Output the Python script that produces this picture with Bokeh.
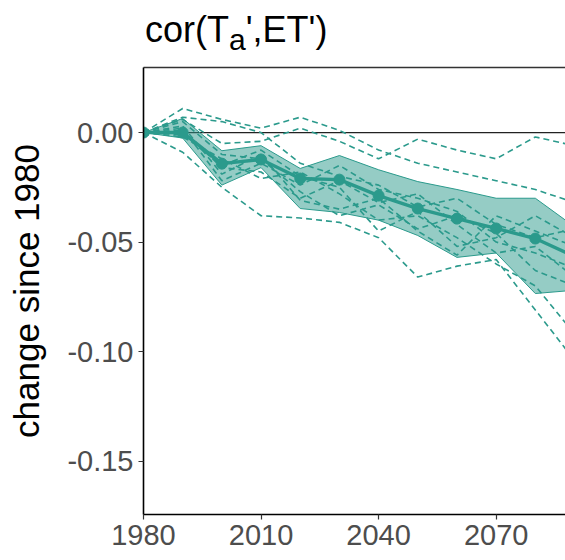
from bokeh.plotting import figure
from bokeh.layouts import column
from bokeh.models import Range1d, FixedTicker, LinearAxis, Span, Div, NumeralTickFormatter
from bokeh.embed import file_html
from bokeh.resources import INLINE

# ---------------- data ----------------
years = [1980, 1990, 2000, 2010, 2020, 2030, 2040, 2050, 2060, 2070, 2080, 2090]

mean_change = [0.0, 0.0, -0.0142, -0.0123, -0.0210, -0.0215, -0.0288, -0.0347,
               -0.0393, -0.0438, -0.0484, -0.0566]
band_upper = [0.0, 0.0064, -0.0083, -0.0060, -0.0164, -0.0105, -0.0170, -0.0224,
              -0.0260, -0.0300, -0.0300, -0.0430]
band_lower = [0.0, -0.0025, -0.0240, -0.0160, -0.0347, -0.0365, -0.0400, -0.0470,
              -0.0570, -0.0550, -0.0735, -0.0720]

member_1 = [0.0, 0.006, -0.005, -0.004, 0.002, -0.004, -0.012, -0.003, -0.008, -0.012, -0.002, -0.006]
member_2 = [0.0, 0.011, 0.006, 0.002, 0.007, 0.001, -0.008, -0.014, -0.018, -0.022, -0.026, -0.032]
member_3 = [0.0, -0.009, -0.025, -0.038, -0.039, -0.041, -0.048, -0.066, -0.061, -0.058, -0.081, -0.104]
member_4 = [0.0, 0.003, -0.019, -0.010, -0.031, -0.035, -0.030, -0.045, -0.056, -0.038, -0.045, -0.052]
member_5 = [0.0, -0.002, -0.012, -0.021, -0.018, -0.028, -0.040, -0.038, -0.048, -0.060, -0.070, -0.092]
member_6 = [0.0, 0.002, -0.022, -0.014, -0.024, -0.015, -0.026, -0.030, -0.036, -0.050, -0.055, -0.062]
member_7 = [0.0, 0.005, -0.010, -0.012, -0.027, -0.038, -0.033, -0.044, -0.038, -0.046, -0.063, -0.070]
member_8 = [0.0, -0.001, -0.015, -0.008, -0.020, -0.025, -0.045, -0.036, -0.052, -0.048, -0.038, -0.048]
member_9 = [0.0, 0.007, 0.005, 0.000, -0.014, -0.020, -0.024, -0.034, -0.030, -0.042, -0.048, -0.044]
member_10 = [0.0, 0.001, -0.016, -0.018, -0.030, -0.022, -0.032, -0.028, -0.042, -0.055, -0.052, -0.066]
members = [member_1, member_2, member_3, member_4, member_5,
           member_6, member_7, member_8, member_9, member_10]

x_ticks = [1980, 2010, 2040, 2070, 2100]
y_ticks = [0.0, -0.05, -0.10, -0.15]
title_html = "cor(T<sub>a</sub>',ET')"
y_label = "change since 1980"

# ---------------- styling ----------------
TEAL = "#2b9a8c"
FONT = "Liberation Sans"

title = Div(text=title_html, width=565, height=55, margin=0,
            styles={"font-family": FONT, "font-size": "36px", "color": "black",
                    "padding-left": "145px", "line-height": "60px",
                    "white-space": "nowrap"})

p = figure(width=565, height=505, output_backend="svg", toolbar_location=None,
           x_range=Range1d(1980, 2087.7), y_range=Range1d(-0.1744, 0.0297),
           min_border_left=143, min_border_right=0, min_border_top=12,
           min_border_bottom=46, margin=0)
p.background_fill_color = "white"
p.border_fill_color = "white"
p.outline_line_color = None
p.grid.visible = False

# zero reference line
p.add_layout(Span(location=0, dimension="width", line_color="#222222",
                  line_width=1.3, level="underlay"))

# ribbon
p.varea(x=years, y1=band_lower, y2=band_upper, fill_color=TEAL, fill_alpha=0.5)
p.line(years, band_upper, line_color=TEAL, line_width=1.0)
p.line(years, band_lower, line_color=TEAL, line_width=1.0)

# ensemble members
for m in members:
    p.line(years, m, line_color=TEAL, line_width=1.6, line_dash="6 4")

# mean
p.line(years, mean_change, line_color=TEAL, line_width=3.4)
p.scatter(years, mean_change, size=11, fill_color=TEAL, line_color=TEAL)

# axes
for ax in (p.xaxis[0], p.yaxis[0]):
    ax.axis_line_color = "black"
    ax.axis_line_width = 1.6
    ax.major_tick_line_color = "#333333"
    ax.major_tick_line_width = 1.2
    ax.major_tick_out = 5
    ax.major_tick_in = 0
    ax.minor_tick_line_color = None
    ax.major_label_text_font = FONT
    ax.major_label_text_font_size = "29px"
    ax.major_label_text_color = "#4d4d4d"
    ax.major_label_standoff = 5

p.xaxis[0].ticker = FixedTicker(ticks=x_ticks)
p.yaxis[0].ticker = FixedTicker(ticks=y_ticks)
p.yaxis[0].formatter = NumeralTickFormatter(format="0.00")
p.yaxis[0].axis_label = y_label
p.yaxis[0].axis_label_text_font = FONT
p.yaxis[0].axis_label_text_font_size = "35px"
p.yaxis[0].axis_label_text_font_style = "normal"
p.yaxis[0].axis_label_text_color = "black"
p.yaxis[0].axis_label_standoff = 18

top = LinearAxis(ticker=FixedTicker(ticks=[]), axis_line_color="#333333",
                 axis_line_width=1.6, major_tick_line_color=None,
                 minor_tick_line_color=None, major_label_text_font_size="0px")
p.add_layout(top, "above")

layout = column(title, p, spacing=0, margin=0)
open("out.html", "w").write(file_html(layout, INLINE))
